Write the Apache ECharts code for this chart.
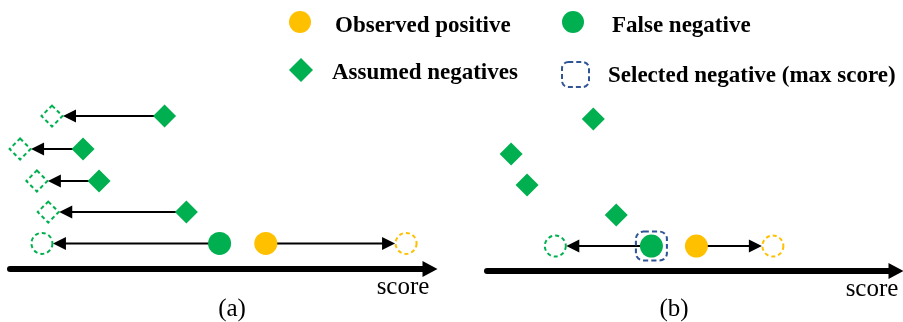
<!DOCTYPE html>
<html>
<head>
<meta charset="utf-8">
<script src="https://cdn.jsdelivr.net/npm/echarts@6/dist/echarts.min.js"></script>
<style>
  html, body { margin: 0; padding: 0; background: #ffffff; }
  #chart { width: 903px; height: 322px; }
</style>
</head>
<body>
<div id="chart"></div>
<script>
// Panel (a): every assumed negative is pushed down in score  [score, row]
const assumedA         = [[36.8, 4.78], [17.4, 3.75], [21.2, 2.75], [42.0, 1.78]];
const assumedShiftedA  = [[10.0, 4.78], [2.4, 3.75], [6.4, 2.75], [9.1, 1.78]];
const falseNegA        = [[49.9, 0.8]];
const falseNegShiftedA = [[7.6, 0.8]];
const positiveA        = [[60.9, 0.8]];
const positiveShiftedA = [[94.3, 0.8]];

// Panel (b): only the highest-scored negative is pushed down
const assumedB         = [[26.0, 4.75], [5.9, 3.66], [9.8, 2.69], [31.6, 1.75]];
const falseNegB        = [[40.2, 0.78]];
const selectedB        = [[40.2, 0.78]];
const falseNegShiftedB = [[16.7, 0.78]];
const positiveB        = [[51.2, 0.78]];
const positiveShiftedB = [[69.9, 0.78]];

const axisName    = 'score';
const panelLabels = ['(a)', '(b)'];
const legendNames = ['Observed positive', 'False negative', 'Assumed negatives', 'Selected negative (max score)'];

const ORANGE = '#FFC000';
const GREEN  = '#00B050';
const BLUE   = '#2F5597';
const SERIF  = '"Liberation Serif", "Times New Roman", serif';

// pair every start point with its shifted position: [fromScore, toScore, row]
function pairs(from, to) {
  return from.map((p, i) => [p[0], to[i][0], p[1]]);
}
const arrowsA = pairs(assumedA, assumedShiftedA)
  .concat(pairs(falseNegA, falseNegShiftedA))
  .concat(pairs(positiveA, positiveShiftedA));
const arrowsB = pairs(falseNegB, falseNegShiftedB)
  .concat(pairs(positiveB, positiveShiftedB));

// straight arrow that stops just short of the hollow target marker
function renderArrow(params, api) {
  const from = api.coord([api.value(0), api.value(2)]);
  const to = api.coord([api.value(1), api.value(2)]);
  const dx = to[0] - from[0], dy = to[1] - from[1];
  const len = Math.hypot(dx, dy) || 1;
  const ux = dx / len, uy = dy / len;
  const gap = 11, head = 13, half = 6.5;
  const tip = [to[0] - ux * gap, to[1] - uy * gap];
  const base = [tip[0] - ux * head, tip[1] - uy * head];
  return {
    type: 'group',
    children: [
      { type: 'line',
        shape: { x1: from[0], y1: from[1], x2: base[0] + ux, y2: base[1] + uy },
        style: { stroke: '#000', lineWidth: 2 } },
      { type: 'polygon',
        shape: { points: [tip, [base[0] - uy * half, base[1] + ux * half], [base[0] + uy * half, base[1] - ux * half]] },
        style: { fill: '#000' } }
    ]
  };
}

function arrowSeries(data, idx) {
  return {
    type: 'custom', xAxisIndex: idx, yAxisIndex: idx, z: 1, silent: true,
    encode: { x: [0, 1], y: 2 }, renderItem: renderArrow, data: data
  };
}

function filled(name, data, symbol, color, idx) {
  return {
    name: name, type: 'scatter', xAxisIndex: idx, yAxisIndex: idx, z: 3,
    symbol: symbol, symbolSize: 23, itemStyle: { color: color, opacity: 1 }, data: data
  };
}

function hollow(data, symbol, color, idx) {
  return {
    type: 'scatter', xAxisIndex: idx, yAxisIndex: idx, z: 3,
    symbol: symbol, symbolSize: 21,
    itemStyle: { color: '#ffffff', opacity: 1, borderColor: color, borderWidth: 2, borderType: [4, 3] },
    data: data
  };
}

function scoreAxis(idx) {
  return {
    gridIndex: idx, type: 'value', min: 0, max: 100,
    axisLine: { show: true, onZero: false, symbol: ['none', 'triangle'], symbolSize: [16, 15],
                lineStyle: { color: '#000', width: 6 } },
    axisTick: { show: false }, axisLabel: { show: false }, splitLine: { show: false }
  };
}
function rowAxis(idx) {
  return { gridIndex: idx, type: 'value', min: 0, max: 5, show: false };
}

// one legend box per entry so the 2x2 arrangement sits exactly
function legendBox(item, left, top, w, h, lineH, padLeft) {
  return {
    data: [item], left: left, top: top, padding: 0, orient: 'horizontal',
    itemWidth: w, itemHeight: h, selectedMode: false, symbolKeepAspect: false,
    formatter: '{t|{name}}',
    textStyle: {
      padding: [0, 0, 0, padLeft],
      rich: { t: { fontFamily: SERIF, fontWeight: 'bold', fontSize: 23, color: '#000',
                   lineHeight: lineH, verticalAlign: 'bottom' } }
    }
  };
}

const labelFont = '25px ' + SERIF;
function label(text, x, y) {
  return { type: 'text', x: x, y: y,
           style: { text: text, font: labelFont, fill: '#000', align: 'center', verticalAlign: 'middle' } };
}

const chart = echarts.init(document.getElementById('chart'), null, { renderer: 'canvas' });
chart.setOption({
  animation: false,
  backgroundColor: '#ffffff',
  grid: [
    { left: 10, top: 109, width: 420, height: 160 },
    { left: 487, top: 111, width: 409, height: 160 }
  ],
  xAxis: [scoreAxis(0), scoreAxis(1)],
  yAxis: [rowAxis(0), rowAxis(1)],
  legend: [
    legendBox({ name: legendNames[0], icon: 'circle', itemStyle: { color: ORANGE, opacity: 1 } }, 289, 11, 22, 22, 32, 19),
    legendBox({ name: legendNames[1], icon: 'circle', itemStyle: { color: GREEN, opacity: 1 } }, 562, 11, 22, 22, 32, 23),
    legendBox({ name: legendNames[2], icon: 'diamond', itemStyle: { color: GREEN, opacity: 1 } }, 289, 58, 24, 24, 29, 14),
    legendBox({ name: legendNames[3], icon: 'roundRect',
                itemStyle: { color: 'rgba(0,0,0,0)', opacity: 1, borderColor: BLUE, borderWidth: 2, borderType: [5, 3] } },
              561, 61, 27, 25, 27, 14)
  ],
  graphic: [
    label(axisName, 403, 287),
    label(axisName, 872, 289),
    label(panelLabels[0], 232, 309),
    label(panelLabels[1], 674, 309)
  ],
  series: [
    arrowSeries(arrowsA, 0),
    filled(legendNames[2], assumedA, 'diamond', GREEN, 0),
    hollow(assumedShiftedA, 'diamond', GREEN, 0),
    filled(legendNames[1], falseNegA, 'circle', GREEN, 0),
    hollow(falseNegShiftedA, 'circle', GREEN, 0),
    filled(legendNames[0], positiveA, 'circle', ORANGE, 0),
    hollow(positiveShiftedA, 'circle', ORANGE, 0),

    arrowSeries(arrowsB, 1),
    filled(legendNames[2], assumedB, 'diamond', GREEN, 1),
    filled(legendNames[1], falseNegB, 'circle', GREEN, 1),
    hollow(falseNegShiftedB, 'circle', GREEN, 1),
    filled(legendNames[0], positiveB, 'circle', ORANGE, 1),
    hollow(positiveShiftedB, 'circle', ORANGE, 1),
    {
      name: legendNames[3], type: 'scatter', xAxisIndex: 1, yAxisIndex: 1, z: 4,
      symbol: 'roundRect', symbolSize: [31, 29],
      itemStyle: { color: 'rgba(0,0,0,0)', opacity: 1, borderColor: BLUE, borderWidth: 2, borderType: [5, 3] },
      data: selectedB
    }
  ]
});
</script>
</body>
</html>
